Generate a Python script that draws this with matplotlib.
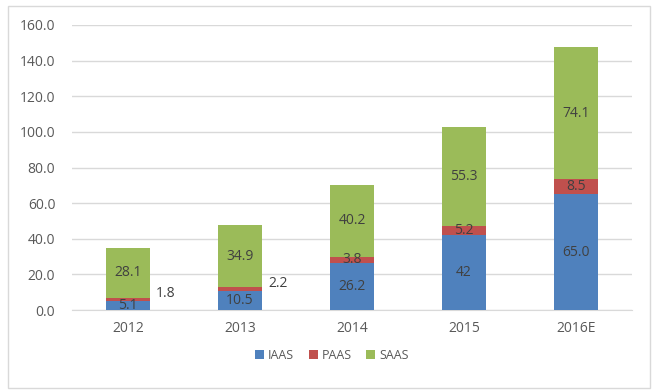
import matplotlib
matplotlib.use("Agg")
import matplotlib.pyplot as plt
import numpy as np
from matplotlib.patches import Rectangle

years = ["2012", "2013", "2014", "2015", "2016E"]
iaas = [5.1, 10.5, 26.2, 42, 65.0]
paas = [1.8, 2.2, 3.8, 5.2, 8.5]
saas = [28.1, 34.9, 40.2, 55.3, 74.1]
iaas_text = ["5.1", "10.5", "26.2", "42", "65.0"]
paas_text = ["1.8", "2.2", "3.8", "5.2", "8.5"]
saas_text = ["28.1", "34.9", "40.2", "55.3", "74.1"]
yticks = [0, 20, 40, 60, 80, 100, 120, 140, 160]

plt.rcParams["font.family"] = ["Open Sans", "DejaVu Sans"]

fig = plt.figure(figsize=(6.57, 3.92), dpi=100)
ax = fig.add_axes([72 / 657, 1 - 310 / 392, 560 / 657, 285 / 392])

fig.patches.append(Rectangle((8 / 657, 4 / 392), 642 / 657, 382 / 392, transform=fig.transFigure,
                             fill=False, edgecolor="#d9d9d9", linewidth=1.0))

x = np.arange(len(years))
w = 0.4
c_i, c_p, c_s = "#4f81bd", "#c0504d", "#9bbb59"
ax.bar(x, iaas, w, color=c_i, label="IAAS", zorder=3)
ax.bar(x, paas, w, bottom=iaas, color=c_p, label="PAAS", zorder=3)
bot = np.array(iaas) + np.array(paas)
ax.bar(x, saas, w, bottom=bot, color=c_s, label="SAAS", zorder=3)

tc = "#404040"
fs = 10
for i in range(len(years)):
    ax.text(x[i], iaas[i] / 2, iaas_text[i], ha="center", va="center", fontsize=fs, color=tc, zorder=4)
    ax.text(x[i], bot[i] + saas[i] / 2, saas_text[i], ha="center", va="center", fontsize=fs, color=tc, zorder=4)
    py = iaas[i] + paas[i] / 2
    if paas[i] < 3:
        ax.text(x[i] + w / 2 + 0.05, py + 3, paas_text[i], ha="left", va="center", fontsize=fs, color=tc, zorder=4)
    else:
        ax.text(x[i], py, paas_text[i], ha="center", va="center", fontsize=fs, color=tc, zorder=4)

ax.set_xlim(-0.5, len(years) - 0.5)
ax.set_ylim(0, 160)
ax.set_yticks(yticks)
ax.set_yticklabels([f"{v:.1f}" for v in yticks])
ax.set_xticks(x)
ax.set_xticklabels(years)
ax.tick_params(length=0, labelsize=10, colors="#595959", pad=8)
ax.tick_params(axis="y", pad=12)
ax.grid(axis="y", color="#d9d9d9", linewidth=1.0, zorder=0)
for s in ["top", "right", "left"]:
    ax.spines[s].set_visible(False)
ax.spines["bottom"].set_color("#d9d9d9")

ax.legend(loc="center", bbox_to_anchor=(0.464, -0.16), ncol=3, frameon=False, fontsize=9,
          handlelength=0.7, handleheight=0.7, handletextpad=0.3, columnspacing=1.2, labelcolor="#595959")

fig.savefig("out.png", dpi=100)
